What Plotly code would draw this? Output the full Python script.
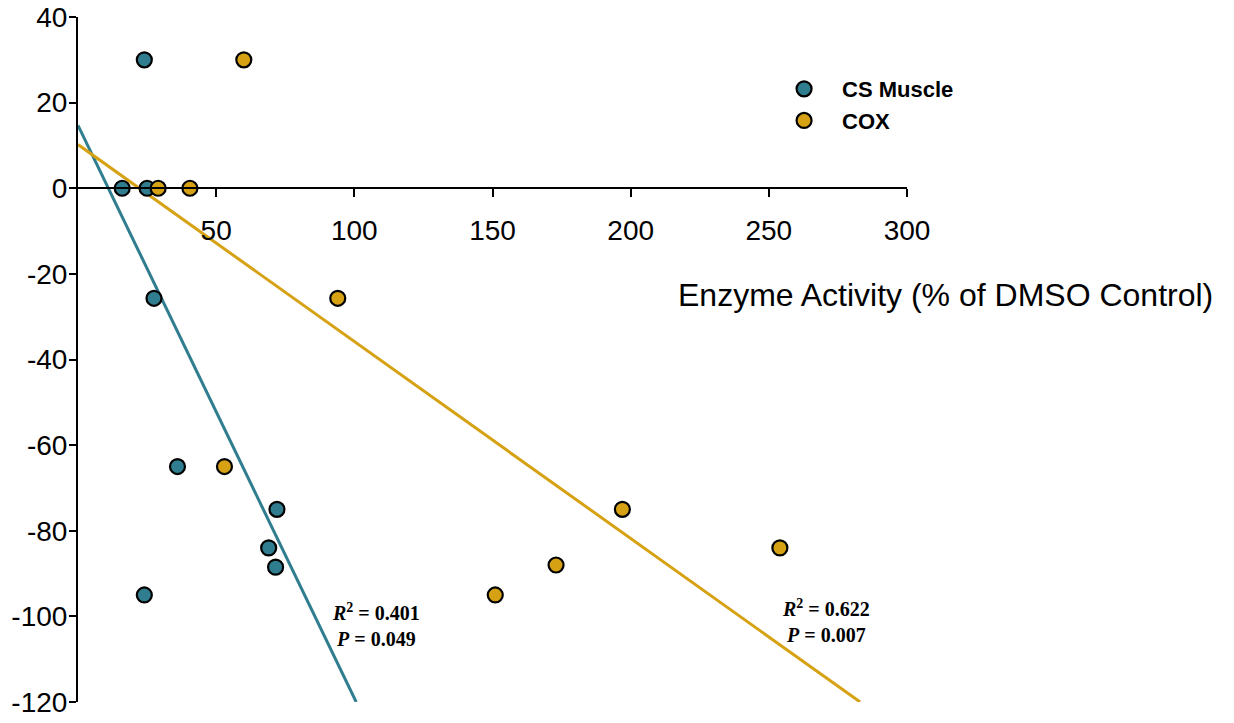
import plotly.graph_objects as go

# Enzyme activity (% of DMSO control) vs. response (%)
cs_activity = [24, 16, 25, 27.5, 36, 72, 69, 71.5, 24]
cs_response = [30, 0, 0, -25.7, -65, -75, -84, -88.5, -95]

cox_activity = [60, 29, 40.5, 94, 53, 197, 173, 254, 151]
cox_response = [30, 0, 0, -25.7, -65, -75, -88, -84, -95]

# Linear fits: intercept, slope
cs_fit = (14.7, -1.338)
cox_fit = (10.2, -0.46)
cs_stats = ("0.401", "0.049")
cox_stats = ("0.622", "0.007")

y_ticks = [40, 20, 0, -20, -40, -60, -80, -100, -120]
x_ticks = [50, 100, 150, 200, 250, 300]

TEAL = "#2f7d8e"
GOLD = "#d6a214"
Y_MIN, Y_MAX = -120, 40
SANS = "Liberation Sans, Arial, sans-serif"


def fit_line(fit, y_floor):
    b, m = fit
    x_end = (y_floor - b) / m
    return [0, x_end], [b, y_floor]


fig = go.Figure()

for fit, color in [(cs_fit, TEAL), (cox_fit, GOLD)]:
    lx, ly = fit_line(fit, Y_MIN)
    fig.add_trace(go.Scatter(x=lx, y=ly, mode="lines", showlegend=False,
                             line=dict(color=color, width=3), hoverinfo="skip", cliponaxis=False))

marker_style = dict(size=15, line=dict(color="black", width=2.2))
fig.add_trace(go.Scatter(x=cs_activity, y=cs_response, mode="markers", name="CS Muscle",
                         marker=dict(color=TEAL, **marker_style), cliponaxis=False))
fig.add_trace(go.Scatter(x=cox_activity, y=cox_response, mode="markers", name="COX",
                         marker=dict(color=GOLD, **marker_style), cliponaxis=False))

x0_frac = (0 - Y_MIN) / (Y_MAX - Y_MIN)

fig.update_layout(
    width=1234, height=723,
    margin=dict(l=78, r=327, t=17, b=21),
    plot_bgcolor="white", paper_bgcolor="white",
    font=dict(family=SANS, color="black"),
    showlegend=True,
    legend=dict(x=0.830, y=0.9255, xanchor="left", yanchor="top",
                font=dict(size=22, color="black", family=SANS, weight="bold"),
                bgcolor="rgba(0,0,0,0)", itemwidth=66, tracegroupgap=0),
    xaxis=dict(range=[0, 300], tickvals=x_ticks, ticktext=[str(v) for v in x_ticks],
               showgrid=False, zeroline=False, showline=True, linecolor="black", linewidth=2,
               ticks="outside", ticklen=8, tickwidth=2, tickcolor="black",
               anchor="free", position=x0_frac, automargin=False, ticklabelstandoff=9,
               ticklabeloverflow="allow",
               tickfont=dict(size=28, color="black", family=SANS)),
    yaxis=dict(range=[Y_MIN, Y_MAX], tickvals=y_ticks, ticktext=[str(v) for v in y_ticks],
               showgrid=False, zeroline=False, showline=True, linecolor="black", linewidth=2,
               ticks="outside", ticklen=7, tickwidth=2, tickcolor="black", automargin=False,
               ticklabelstandoff=-4, ticklabeloverflow="allow",
               tickfont=dict(size=28, color="black", family=SANS)),
)

fig.add_annotation(text="Enzyme Activity (% of DMSO Control)", xref="paper", yref="y",
                   x=0.7213, y=-25, xanchor="left", showarrow=False,
                   font=dict(size=32, color="black", family=SANS))

stat_font = dict(family="Liberation Serif, Times New Roman, serif", size=20, color="black", weight="bold")
fig.add_annotation(text=f"<i>R</i><sup>2</sup> = {cs_stats[0]}<br><i>P</i> = {cs_stats[1]}",
                   x=107.9, y=-102, showarrow=False, align="center", font=stat_font)
fig.add_annotation(text=f"<i>R</i><sup>2</sup> = {cox_stats[0]}<br><i>P</i> = {cox_stats[1]}",
                   x=270.7, y=-101, showarrow=False, align="center", font=stat_font)

fig.write_html("out.html")
